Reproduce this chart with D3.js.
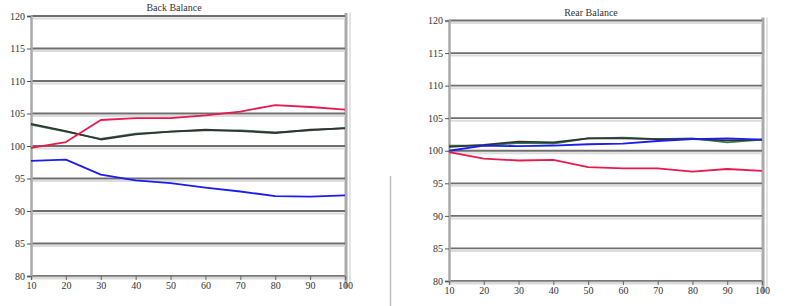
<!DOCTYPE html>
<html><head><meta charset="utf-8">
<script src="https://cdn.jsdelivr.net/npm/d3@7"></script>
<style>body{margin:0;background:#fff}svg{display:block}text{font-family:"Liberation Serif","DejaVu Serif",serif;fill:#333}</style>
</head><body><svg id="c" width="792" height="306"></svg>
<script>
const xTicks = [10,20,30,40,50,60,70,80,90,100];
const yTicks = [80,85,90,95,100,105,110,115,120];
const titles = ["Back Balance","Rear Balance"];
const seriesNames = ["green","black","blue","red"];
const seriesColors = ["#2e7d4f","#333333","#1c1cf0","#e8194f"];
// left chart
const leftGreen = [103.3,102.2,101.1,101.9,102.2,102.4,102.4,102.1,102.4,102.8];
const leftBlack = [103.4,102.3,101.0,101.8,102.2,102.5,102.3,102.0,102.5,102.7];
const leftBlue  = [97.7,97.9,95.6,94.7,94.3,93.6,93.0,92.3,92.2,92.4];
const leftRed   = [99.7,100.6,104.0,104.3,104.3,104.7,105.3,106.3,106.0,105.6];
// right chart
const rightGreen = [100.8,100.8,101.2,101.1,101.9,102.0,101.8,101.9,101.3,101.7];
const rightBlack = [100.6,100.9,101.4,101.3,101.9,101.9,101.8,101.8,101.6,101.7];
const rightBlue  = [100.0,100.8,100.7,100.8,101.0,101.1,101.5,101.8,101.9,101.7];
const rightRed   = [99.8,98.8,98.5,98.6,97.5,97.3,97.3,96.8,97.2,96.9];

const svg = d3.select("#c");
svg.append("line").attr("x1",390.5).attr("x2",390.5).attr("y1",176).attr("y2",306).attr("stroke","#bbb").attr("stroke-width",1.5);

function chart(cfg){
  const x = d3.scaleLinear().domain([10,100]).range([cfg.x0,cfg.x1]);
  const y = d3.scaleLinear().domain([80,120]).range([cfg.yb,cfg.yt]);
  const g = svg.append("g");
  g.append("line").attr("x1",cfg.x1+1).attr("x2",cfg.x1+1).attr("y1",cfg.yt-3).attr("y2",cfg.yb+12).attr("stroke","#aaa").attr("stroke-width",3);
  g.append("line").attr("x1",cfg.x1+5).attr("x2",cfg.x1+5).attr("y1",cfg.yt-3).attr("y2",cfg.yb+12).attr("stroke","#e4e4e4").attr("stroke-width",2);
  yTicks.forEach(t=>{
    g.append("line").attr("x1",cfg.x0).attr("x2",cfg.x1).attr("y1",y(t)+2.5).attr("y2",y(t)+2.5).attr("stroke","#dcdcdc").attr("stroke-width",2);
    g.append("line").attr("x1",cfg.x0).attr("x2",cfg.x1).attr("y1",y(t)).attr("y2",y(t)).attr("stroke","#6e6e6e").attr("stroke-width",1.8);
  });
  const ya = d3.axisLeft(y).tickValues(yTicks).tickSize(4).tickPadding(2);
  const yg = g.append("g").attr("transform",`translate(${cfg.x0},0)`).call(ya);
  yg.select(".domain").attr("stroke","#aaa").attr("stroke-width",2.5);
  yg.selectAll(".tick line").attr("stroke","#555");
  yg.selectAll("text").style("font-size","10px").attr("fill","#333").attr("font-family","Liberation Serif, serif");
  const xa = d3.axisBottom(x).tickValues(xTicks).tickSize(4).tickPadding(2);
  const xg = g.append("g").attr("transform",`translate(0,${cfg.yb})`).call(xa);
  xg.select(".domain").attr("stroke","#999").attr("stroke-width",1.5);
  xg.selectAll(".tick line").attr("stroke","#666");
  xg.selectAll("text").style("font-size","10px").attr("fill","#333").attr("font-family","Liberation Serif, serif");
  g.append("text").attr("x",cfg.tx).attr("y",cfg.yt-5).attr("text-anchor","middle").style("font-size","10px").text(cfg.title);
  const line = d3.line().x((d,i)=>x(xTicks[i])).y(d=>y(d));
  cfg.series.forEach((s,i)=>{
    g.append("path").datum(s).attr("d",line).attr("fill","none").attr("stroke",seriesColors[i]).attr("stroke-width",1.8).attr("stroke-linejoin","round");
  });
}
chart({x0:31,x1:345,yt:16,yb:276,tx:174,title:titles[0],series:[leftGreen,leftBlack,leftBlue,leftRed]});
chart({x0:449,x1:762,yt:20.5,yb:281,tx:591,title:titles[1],series:[rightGreen,rightBlack,rightBlue,rightRed]});
</script></body></html>
